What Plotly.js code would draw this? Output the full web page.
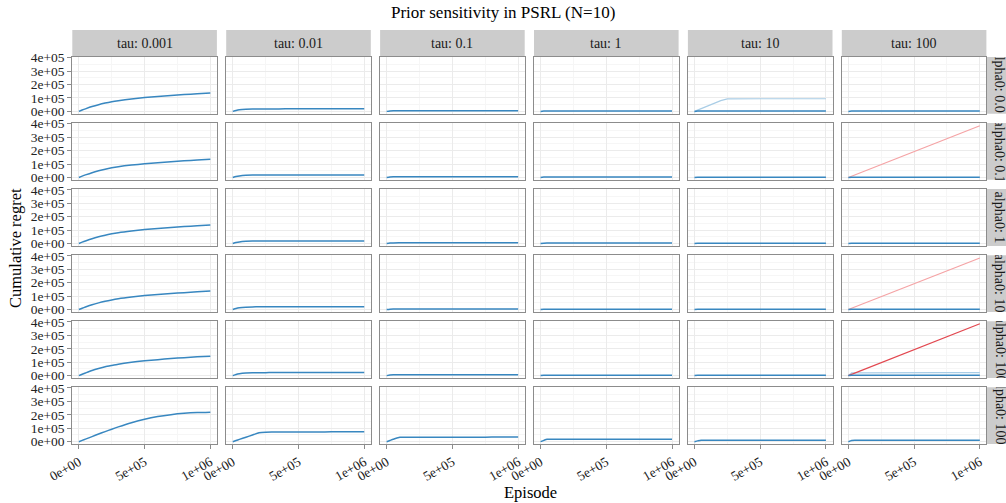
<!DOCTYPE html>
<html>
<head>
<meta charset="utf-8">
<script src="https://cdn.plot.ly/plotly-3.0.1.min.js"></script>
<style>
html,body{margin:0;padding:0;overflow:hidden;background:#fff;}
#chart{width:1006px;height:503px;}
</style>
</head>
<body>
<div id="chart"></div>
<script>
// ---------------- data ----------------
const tauLabels = ['tau: 0.001', 'tau: 0.01', 'tau: 0.1', 'tau: 1', 'tau: 10', 'tau: 100'];
const alphaLabels = ['alpha0: 0.01', 'alpha0: 0.1', 'alpha0: 1', 'alpha0: 10', 'alpha0: 100', 'alpha0: 1000'];

const episodes = [0, 25000, 50000, 100000, 150000, 200000, 250000, 300000, 400000, 500000, 600000, 700000, 800000, 900000, 1000000];

const xTickVals = [0, 500000, 1000000];
const xTickText = ['0e+00', '5e+05', '1e+06'];
const xMinorVals = [250000, 750000];
const yTickVals = [0, 100000, 200000, 300000, 400000];
const yTickText = ['0e+00', '1e+05', '2e+05', '3e+05', '4e+05'];
const yMinorVals = [50000, 150000, 250000, 350000];

// main (blue) cumulative regret, one row per alpha0
const regretTau0001 = [
  [0, 10000, 19000, 36000, 50000, 62000, 72000, 80000, 93000, 103000, 111000, 118000, 125000, 131000, 137000],
  [0, 10000, 19000, 35500, 49500, 61500, 71500, 79500, 92000, 102000, 110000, 117000, 124000, 130000, 136000],
  [0, 10000, 19000, 36000, 50000, 62000, 72000, 80500, 93500, 104000, 112000, 119000, 126000, 132000, 138000],
  [0, 10000, 19000, 36000, 50000, 62000, 72000, 80500, 93500, 104000, 112000, 119000, 126000, 132000, 138000],
  [0, 10500, 20000, 38000, 53000, 66000, 76000, 85000, 99000, 110000, 119000, 127000, 134000, 140000, 145000],
  [0, 9500, 19000, 38000, 57000, 75000, 93000, 110000, 141000, 167000, 187000, 201000, 211000, 217000, 220000]
];
const regretTau001 = [
  [0, 7000, 12000, 16500, 18000, 18300, 18500, 18600, 18700, 18800, 18800, 18900, 18900, 19000, 19000],
  [0, 7000, 11500, 16000, 17300, 17500, 17600, 17700, 17800, 17800, 17900, 17900, 18000, 18000, 18000],
  [0, 7000, 12000, 16500, 18000, 18300, 18500, 18600, 18700, 18800, 18800, 18900, 18900, 19000, 19000],
  [0, 8000, 13000, 18000, 19800, 20200, 20400, 20500, 20600, 20700, 20800, 20800, 20900, 21000, 21000],
  [0, 8500, 14000, 19500, 21500, 22000, 22300, 22500, 22600, 22700, 22800, 22800, 22900, 23000, 23000],
  [0, 8500, 17000, 33000, 50000, 66000, 71000, 72000, 72500, 73000, 73000, 73000, 73500, 73500, 74000]
];
const regretTau01 = [
  [0, 3000, 4500, 5000, 5000, 5000, 5000, 5000, 5000, 5000, 5000, 5000, 5000, 5000, 5000],
  [0, 3000, 4500, 5000, 5000, 5000, 5000, 5000, 5000, 5000, 5000, 5000, 5000, 5000, 5000],
  [0, 3000, 4500, 5000, 5000, 5000, 5000, 5000, 5000, 5000, 5000, 5000, 5000, 5000, 5000],
  [0, 3000, 4500, 5000, 5000, 5000, 5000, 5000, 5000, 5000, 5000, 5000, 5000, 5000, 5000],
  [0, 4000, 6000, 7000, 7000, 7000, 7000, 7000, 7000, 7000, 7000, 7000, 7000, 7000, 7000],
  [0, 9000, 18000, 33000, 33500, 33500, 33500, 33500, 33500, 33500, 33500, 33500, 34000, 34000, 34000]
];
const regretTau1 = [
  [0, 2500, 3000, 3000, 3000, 3000, 3000, 3000, 3000, 3000, 3000, 3000, 3000, 3000, 3000],
  [0, 2500, 3000, 3000, 3000, 3000, 3000, 3000, 3000, 3000, 3000, 3000, 3000, 3000, 3000],
  [0, 2500, 3000, 3000, 3000, 3000, 3000, 3000, 3000, 3000, 3000, 3000, 3000, 3000, 3000],
  [0, 2500, 3000, 3000, 3000, 3000, 3000, 3000, 3000, 3000, 3000, 3000, 3000, 3000, 3000],
  [0, 2500, 3000, 3000, 3000, 3000, 3000, 3000, 3000, 3000, 3000, 3000, 3000, 3000, 3000],
  [0, 10000, 18000, 19000, 19000, 19000, 19000, 19000, 19000, 19000, 19000, 19000, 19000, 19000, 19000]
];
const regretTau10 = [
  [0, 2000, 2000, 2000, 2000, 2000, 2000, 2000, 2000, 2000, 2000, 2000, 2000, 2000, 2000],
  [0, 2000, 2000, 2000, 2000, 2000, 2000, 2000, 2000, 2000, 2000, 2000, 2000, 2000, 2000],
  [0, 2000, 2000, 2000, 2000, 2000, 2000, 2000, 2000, 2000, 2000, 2000, 2000, 2000, 2000],
  [0, 2000, 2000, 2000, 2000, 2000, 2000, 2000, 2000, 2000, 2000, 2000, 2000, 2000, 2000],
  [0, 2000, 2000, 2000, 2000, 2000, 2000, 2000, 2000, 2000, 2000, 2000, 2000, 2000, 2000],
  [0, 6000, 11000, 11500, 11500, 11500, 11500, 11500, 11500, 11500, 11500, 11500, 11500, 11500, 11500]
];
const regretTau100 = [
  [0, 2000, 2000, 2000, 2000, 2000, 2000, 2000, 2000, 2000, 2000, 2000, 2000, 2000, 2000],
  [0, 2000, 2000, 2000, 2000, 2000, 2000, 2000, 2000, 2000, 2000, 2000, 2000, 2000, 2000],
  [0, 2000, 2000, 2000, 2000, 2000, 2000, 2000, 2000, 2000, 2000, 2000, 2000, 2000, 2000],
  [0, 2000, 2000, 2000, 2000, 2000, 2000, 2000, 2000, 2000, 2000, 2000, 2000, 2000, 2000],
  [0, 2500, 3000, 3000, 3000, 3000, 3000, 3000, 3000, 3000, 3000, 3000, 3000, 3000, 3000],
  [0, 9000, 11000, 11500, 11500, 11500, 11500, 11500, 11500, 11500, 11500, 11500, 11500, 11500, 11500]
];

// faint light-blue runs
const lightTau10Alpha001 = [0, 10000, 20000, 40000, 60000, 80000, 93000, 94000, 94000, 94000, 94000, 94000, 94000, 94000, 94000];
const lightTau100Alpha100 = [0, 20000, 21000, 21500, 22000, 22000, 22000, 22000, 22000, 22000, 22000, 22000, 22000, 22000, 22000];

// red (diverging) runs, tau = 100
const redEpisodes = [0, 1000000];
const redTau100Alpha01 = [0, 385000];
const redTau100Alpha10 = [0, 384000];
const redTau100Alpha100 = [0, 386000];

// ---------------- layout helpers ----------------
const W = 1006, H = 503;
const FONT = 'Liberation Serif, Times New Roman, serif';
const COL_LEFT0 = 72.3, COL_STEP = 153.9, COL_W = 144.6;
const ROW_TOP0 = 57, ROW_STEP = 66.06, ROW_H = 56.8;
const px = x => x / W;
const py = y => 1 - y / H;

const mainByCol = [regretTau0001, regretTau001, regretTau01, regretTau1, regretTau10, regretTau100];

const BLUE = '#3887c0', LIGHTBLUE = '#a9cde6', LIGHTRED = '#f5a3a5', DARKRED = '#e2474f';

const traces = [];
const layout = {
  width: W, height: H,
  margin: {l: 0, r: 0, t: 0, b: 0},
  paper_bgcolor: '#ffffff', plot_bgcolor: '#ffffff',
  showlegend: false,
  font: {family: FONT, color: '#1a1a1a'},
  shapes: [], annotations: []
};

function axisId(r, c) { return r * 6 + c + 1; }

for (let r = 0; r < 6; r++) {
  for (let c = 0; c < 6; c++) {
    const n = axisId(r, c);
    const xa = n === 1 ? 'x' : 'x' + n;
    const ya = n === 1 ? 'y' : 'y' + n;
    const left = COL_LEFT0 + COL_STEP * c;
    const top = ROW_TOP0 + ROW_STEP * r;
    const bottomRow = r === 5, leftCol = c === 0;

    layout['xaxis' + (n === 1 ? '' : n)] = {
      domain: [px(left), px(left + COL_W)],
      anchor: ya,
      range: [-50000, 1050000],
      showline: true, mirror: true, linecolor: '#8c8c8c', linewidth: 1,
      showgrid: true, gridcolor: '#ebebeb', gridwidth: 1, zeroline: false,
      tickmode: 'array', tickvals: xTickVals, ticktext: xTickText,
      ticks: bottomRow ? 'outside' : '', ticklen: 4, tickcolor: '#8c8c8c', tickwidth: 1,
      showticklabels: bottomRow, tickangle: -30,
      tickfont: {family: FONT, size: 13.5, color: '#222222'},
      minor: {tickmode: 'array', tickvals: xMinorVals, showgrid: true, gridcolor: '#f6f6f6', gridwidth: 1, ticks: ''},
      fixedrange: true
    };
    layout['yaxis' + (n === 1 ? '' : n)] = {
      domain: [py(top + ROW_H), py(top)],
      anchor: xa,
      range: [-18000, 405000],
      showline: true, mirror: true, linecolor: '#8c8c8c', linewidth: 1,
      showgrid: true, gridcolor: '#ebebeb', gridwidth: 1, zeroline: false,
      tickmode: 'array', tickvals: yTickVals, ticktext: yTickText,
      ticks: leftCol ? 'outside' : '', ticklen: 4, tickcolor: '#8c8c8c', tickwidth: 1,
      showticklabels: leftCol,
      tickfont: {family: FONT, size: 13.5, color: '#222222'},
      minor: {tickmode: 'array', tickvals: yMinorVals, showgrid: true, gridcolor: '#f6f6f6', gridwidth: 1, ticks: ''},
      fixedrange: true
    };

    // extra runs
    if (c === 4 && r === 0) {
      traces.push({x: episodes, y: lightTau10Alpha001, xaxis: xa, yaxis: ya, type: 'scatter', mode: 'lines',
        line: {color: LIGHTBLUE, width: 1.2}, hoverinfo: 'skip'});
    }
    if (c === 5 && r === 4) {
      traces.push({x: episodes, y: lightTau100Alpha100, xaxis: xa, yaxis: ya, type: 'scatter', mode: 'lines',
        line: {color: LIGHTBLUE, width: 1.2}, hoverinfo: 'skip'});
    }
    if (c === 5 && r === 1) {
      traces.push({x: redEpisodes, y: redTau100Alpha01, xaxis: xa, yaxis: ya, type: 'scatter', mode: 'lines',
        line: {color: LIGHTRED, width: 1.2}, hoverinfo: 'skip'});
    }
    if (c === 5 && r === 3) {
      traces.push({x: redEpisodes, y: redTau100Alpha10, xaxis: xa, yaxis: ya, type: 'scatter', mode: 'lines',
        line: {color: LIGHTRED, width: 1.2}, hoverinfo: 'skip'});
    }
    if (c === 5 && r === 4) {
      traces.push({x: redEpisodes, y: redTau100Alpha100, xaxis: xa, yaxis: ya, type: 'scatter', mode: 'lines',
        line: {color: DARKRED, width: 1.2}, hoverinfo: 'skip'});
    }
    // main run
    traces.push({x: episodes, y: mainByCol[c][r], xaxis: xa, yaxis: ya, type: 'scatter', mode: 'lines',
      line: {color: BLUE, width: 1.5, shape: 'spline', smoothing: 0.6}, hoverinfo: 'skip'});
  }
}

// top strips (tau)
for (let c = 0; c < 6; c++) {
  const left = COL_LEFT0 + COL_STEP * c;
  layout.shapes.push({type: 'rect', xref: 'paper', yref: 'paper',
    x0: px(left), x1: px(left + COL_W), y0: py(ROW_TOP0), y1: py(30),
    fillcolor: '#cccccc', line: {width: 0}, layer: 'below'});
  layout.annotations.push({xref: 'paper', yref: 'paper', x: px(left + COL_W / 2), y: py(43.5),
    text: tauLabels[c], showarrow: false, xanchor: 'center', yanchor: 'middle',
    font: {family: FONT, size: 14, color: '#1a1a1a'}});
}
// right strips (alpha0)
const rightX0 = COL_LEFT0 + COL_STEP * 5 + COL_W;
const STRIP_W = 27;
const stripAnnIdx = [];
for (let r = 0; r < 6; r++) {
  const top = ROW_TOP0 + ROW_STEP * r;
  layout.shapes.push({type: 'rect', xref: 'paper', yref: 'paper',
    x0: px(rightX0), x1: px(rightX0 + STRIP_W), y0: py(top + ROW_H), y1: py(top),
    fillcolor: '#cccccc', line: {width: 0}, layer: 'below'});
  stripAnnIdx.push({idx: layout.annotations.length, top: top});
  layout.annotations.push({xref: 'paper', yref: 'paper', x: px(rightX0 + STRIP_W / 2), y: py(top + ROW_H / 2),
    text: alphaLabels[r], showarrow: false, xanchor: 'center', yanchor: 'middle', textangle: 90,
    font: {family: FONT, size: 14, color: '#1a1a1a'}});
}

// titles
layout.annotations.push({xref: 'paper', yref: 'paper', x: 0.5, y: py(13), text: 'Prior sensitivity in PSRL (N=10)',
  showarrow: false, xanchor: 'center', yanchor: 'middle', font: {family: FONT, size: 17, color: '#000000'}});
layout.annotations.push({xref: 'paper', yref: 'paper', x: px(530), y: py(492), text: 'Episode',
  showarrow: false, xanchor: 'center', yanchor: 'middle', font: {family: FONT, size: 16.5, color: '#000000'}});
layout.annotations.push({xref: 'paper', yref: 'paper', x: px(15), y: py(248), text: 'Cumulative regret',
  showarrow: false, xanchor: 'center', yanchor: 'middle', textangle: -90, font: {family: FONT, size: 16.5, color: '#000000'}});

Plotly.newPlot('chart', traces, layout, {staticPlot: true, displayModeBar: false}).then(function (gd) {
  // clip right-strip labels to their strip boxes, as in the original
  const NS = 'http://www.w3.org/2000/svg';
  const top = gd._fullLayout._toppaper.node();
  const defs = document.createElementNS(NS, 'defs');
  top.insertBefore(defs, top.firstChild);
  const groups = gd.querySelectorAll('.infolayer g.annotation');
  stripAnnIdx.forEach(function (s, i) {
    const cp = document.createElementNS(NS, 'clipPath');
    cp.setAttribute('id', 'stripclip' + i);
    cp.setAttribute('clipPathUnits', 'userSpaceOnUse');
    const rect = document.createElementNS(NS, 'rect');
    rect.setAttribute('x', rightX0);
    rect.setAttribute('y', s.top);
    rect.setAttribute('width', STRIP_W);
    rect.setAttribute('height', ROW_H);
    cp.appendChild(rect);
    defs.appendChild(cp);
    groups.forEach(function (g) {
      if (g.getAttribute('data-index') === String(s.idx)) {
        g.setAttribute('clip-path', 'url(#stripclip' + i + ')');
      }
    });
  });
});
</script>
</body>
</html>
